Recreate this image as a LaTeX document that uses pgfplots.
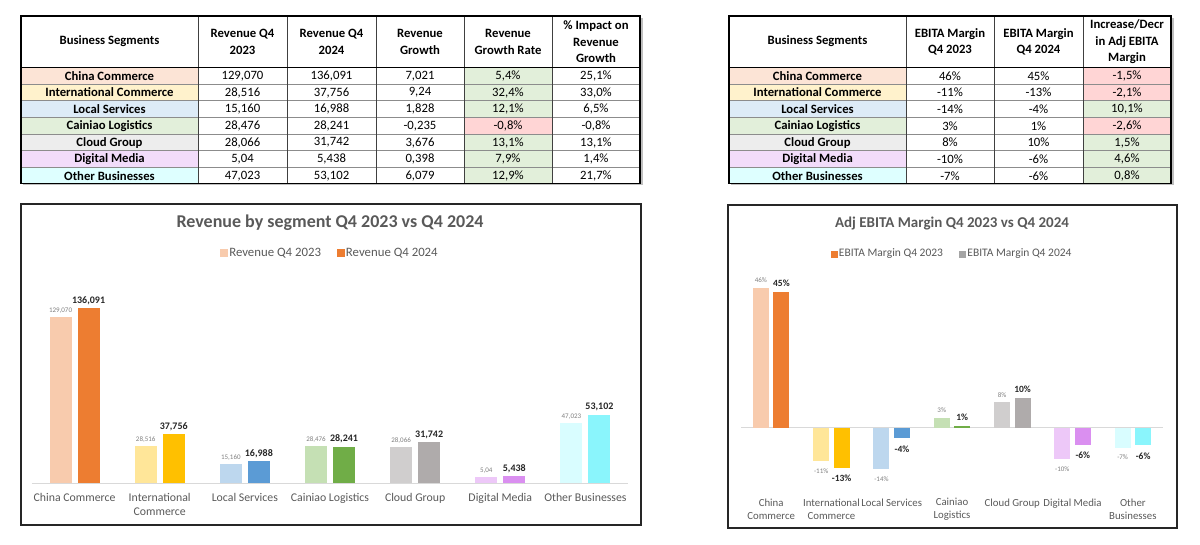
\documentclass[border=0pt]{standalone}
\usepackage{pgfplots}
\pgfplotsset{compat=1.18}
\usepackage{fontspec}
\setmainfont{Carlito}

% bar colours: A = 2023 (light), B = 2024 (dark)
\definecolor{cnA}{HTML}{F8CBAD}\definecolor{cnB}{HTML}{ED7D31}
\definecolor{inA}{HTML}{FFE699}\definecolor{inB}{HTML}{FFC000}
\definecolor{loA}{HTML}{BDD7EE}\definecolor{loB}{HTML}{5B9BD5}
\definecolor{caA}{HTML}{C5E0B4}\definecolor{caB}{HTML}{70AD47}
\definecolor{clA}{HTML}{D0CECE}\definecolor{clB}{HTML}{AFABAB}
\definecolor{dmA}{HTML}{EDC8F8}\definecolor{dmB}{HTML}{DA8FF0}
\definecolor{otA}{HTML}{D9FDFF}\definecolor{otB}{HTML}{8AF5FC}
\definecolor{lgray}{HTML}{A5A5A5}
\definecolor{txt}{HTML}{595959}
\definecolor{lbl}{HTML}{7F7F7F}
\definecolor{dark}{HTML}{262626}
\definecolor{gridc}{HTML}{D9D9D9}
% table fills
\definecolor{tcn}{HTML}{FCE4D6}\definecolor{tin}{HTML}{FFF2CC}
\definecolor{tlo}{HTML}{DDEBF7}\definecolor{tca}{HTML}{E2EFDA}
\definecolor{tcl}{HTML}{EDEDED}\definecolor{tdm}{HTML}{F2DCFA}
\definecolor{tot}{HTML}{DEFFFF}
\definecolor{good}{HTML}{E2EFDA}\definecolor{bad}{HTML}{FFD5D5}

\newcommand{\tf}{\fontsize{12.7}{16.5}\selectfont}

% table 1 row: idx, fill, label, q23, q24, growth, rate fill, rate, impact
\newcommand{\rowA}[9]{%
  \pgfmathsetmacro\ya{67.3+(#1-1)*16.67}%
  \fill[#2] (21,\ya) rectangle (198,\ya+16.67);
  \fill[#7] (464,\ya) rectangle (552,\ya+16.67);
  \node[font=\bfseries\tf] at (109.5,\ya+8.6) {#3};
  \node[font=\tf] at (242.5,\ya+8.6) {#4};
  \node[font=\tf] at (331.5,\ya+8.6) {#5};
  \node[font=\tf] at (420,\ya+8.6) {#6};
  \node[font=\tf] at (508,\ya+8.6) {#8};
  \node[font=\tf] at (596,\ya+8.6) {#9};
}
% table 2 row: idx, fill, label, m23, m24, change fill, change
\newcommand{\rowB}[7]{%
  \pgfmathsetmacro\ya{67.3+(#1-1)*16.67}%
  \fill[#2] (729,\ya) rectangle (906,\ya+16.67);
  \fill[#6] (1083,\ya) rectangle (1171,\ya+16.67);
  \node[font=\bfseries\tf] at (817.5,\ya+8.6) {#3};
  \node[font=\tf] at (950,\ya+8.6) {#4};
  \node[font=\tf] at (1038.5,\ya+8.6) {#5};
  \node[font=\tf] at (1127,\ya+8.6) {#7};
}

\pgfplotsset{
  r23/.style={fill=#1, draw=none, bar shift=-14pt, forget plot,
    every node near coord/.append style={font=\fontsize{7}{8}\selectfont, text=lbl}},
  r24/.style={fill=#1, draw=none, bar shift=14pt, forget plot,
    every node near coord/.append style={font=\bfseries\fontsize{10}{11}\selectfont, text=dark}},
  e23/.style={fill=#1, draw=none, bar shift=-10.25pt, forget plot,
    every node near coord/.append style={font=\fontsize{7}{8}\selectfont, text=lbl, yshift=1.5pt}},
  e24/.style={fill=#1, draw=none, bar shift=10.25pt, forget plot,
    every node near coord/.append style={font=\bfseries\fontsize{9.5}{10}\selectfont, text=dark, yshift=1.5pt}},
  neg/.style={every node near coord/.append style={anchor=north, yshift=-5.5pt}},
}

\begin{document}
\begin{tikzpicture}
\begin{scope}[x=1pt, y=-1pt, yshift=544pt]
  \path[use as bounding box] (0,0) rectangle (1200,544);

  % ---------- table 1 ----------
  \fill[black!25] (23,18) rectangle (642.5,185.5);
  \fill[white] (21,16) rectangle (640,183.3);
  \rowA{1}{tcn}{China Commerce}{129,070}{136,091}{7,021}{good}{5,4\%}{25,1\%}
  \rowA{2}{tin}{International Commerce}{28,516}{37,756}{9,24}{good}{32,4\%}{33,0\%}
  \rowA{3}{tlo}{Local Services}{15,160}{16,988}{1,828}{good}{12,1\%}{6,5\%}
  \rowA{4}{tca}{Cainiao Logistics}{28,476}{28,241}{-0,235}{bad}{-0,8\%}{-0,8\%}
  \rowA{5}{tcl}{Cloud Group}{28,066}{31,742}{3,676}{good}{13,1\%}{13,1\%}
  \rowA{6}{tdm}{Digital Media}{5,04}{5,438}{0,398}{good}{7,9\%}{1,4\%}
  \rowA{7}{tot}{Other Businesses}{47,023}{53,102}{6,079}{good}{12,9\%}{21,7\%}
  \foreach \i in {1,...,6} \draw[black!45, line width=0.6pt] (21,67.3+\i*16.67) -- (640,67.3+\i*16.67);
  \foreach \x in {198,287,376,464,552} \draw[black!75, line width=0.8pt] (\x,16) -- (\x,183.3);
  \draw[black, line width=1pt] (21,67.3) -- (640,67.3);
  \draw[black, line width=1.2pt] (21,16) rectangle (640,183.3);
  \begin{scope}[every node/.style={font=\bfseries\fontsize{12.7}{16.5}\selectfont, align=center}]
    \node at (109.5,41.5) {Business Segments};
    \node at (242.5,42) {Revenue Q4\\2023};
    \node at (331.5,42) {Revenue Q4\\2024};
    \node at (420,42) {Revenue\\Growth};
    \node at (508,42) {Revenue\\Growth Rate};
    \node at (596,42) {\% Impact on\\Revenue\\Growth};
  \end{scope}

  % ---------- table 2 ----------
  \fill[black!25] (731,18) rectangle (1173.5,185.5);
  \fill[white] (729,16) rectangle (1171,183.3);
  \rowB{1}{tcn}{China Commerce}{46\%}{45\%}{bad}{-1,5\%}
  \rowB{2}{tin}{International Commerce}{-11\%}{-13\%}{bad}{-2,1\%}
  \rowB{3}{tlo}{Local Services}{-14\%}{-4\%}{good}{10,1\%}
  \rowB{4}{tca}{Cainiao Logistics}{3\%}{1\%}{bad}{-2,6\%}
  \rowB{5}{tcl}{Cloud Group}{8\%}{10\%}{good}{1,5\%}
  \rowB{6}{tdm}{Digital Media}{-10\%}{-6\%}{good}{4,6\%}
  \rowB{7}{tot}{Other Businesses}{-7\%}{-6\%}{good}{0,8\%}
  \foreach \i in {1,...,6} \draw[black!45, line width=0.6pt] (729,67.3+\i*16.67) -- (1171,67.3+\i*16.67);
  \foreach \x in {906,994,1083} \draw[black!75, line width=0.8pt] (\x,16) -- (\x,183.3);
  \draw[black, line width=1pt] (729,67.3) -- (1171,67.3);
  \draw[black, line width=1.2pt] (729,16) rectangle (1171,183.3);
  \begin{scope}[every node/.style={font=\bfseries\fontsize{12.7}{16.5}\selectfont, align=center}]
    \node at (817.5,41.5) {Business Segments};
    \node at (950,42) {EBITA Margin\\Q4 2023};
    \node at (1038.5,42) {EBITA Margin\\Q4 2024};
    \node at (1127,42) {Increase/Decr\\in Adj EBITA\\Margin};
  \end{scope}

  % ---------- chart frames and titles ----------
  \draw[black!85, line width=1.2pt] (21,204) rectangle (641,525);
  \draw[black!85, line width=1.2pt] (728,205) rectangle (1177,528);
  \node[font=\bfseries\fontsize{18}{20}\selectfont, text=txt] at (330,223) {Revenue by segment Q4 2023 vs Q4 2024};
  \node[font=\bfseries\fontsize{15}{17}\selectfont, text=txt] at (952,224) {Adj EBITA Margin Q4 2023 vs Q4 2024};
\end{scope}

% ---------- revenue chart ----------
\begin{axis}[
  at={(32pt,61pt)}, anchor=south west,
  scale only axis, width=596pt, height=213pt,
  xmin=-0.5, xmax=6.5, ymin=0, ymax=165640,
  ybar, bar width=22pt,
  axis line style={draw=none},
  major tick length=0pt,
  ytick=\empty, xtick={0,...,6},
  xticklabels={China Commerce, {International\\Commerce}, Local Services, Cainiao Logistics, Cloud Group, Digital Media, Other Businesses},
  xticklabel style={font=\fontsize{11.8}{14}\selectfont, text=txt, align=center, yshift=-7pt},
  extra y ticks={0}, extra y tick labels={},
  extra y tick style={grid=major, major grid style={gridc, line width=0.8pt}},
  point meta=explicit symbolic, nodes near coords,
  clip=false,
  legend columns=2,
  legend style={at={(0.5,1)}, anchor=center, yshift=17pt, draw=none, fill=none,
    font=\fontsize{12.8}{14}\selectfont, text=txt,
    /tikz/every even column/.append style={column sep=14pt}},
]
  \addplot[r23=cnA] coordinates {(0,129070) [129,070]};
  \addplot[r24=cnB] coordinates {(0,136091) [136,091]};
  \addplot[r23=inA] coordinates {(1,28516) [28,516]};
  \addplot[r24=inB] coordinates {(1,37756) [37,756]};
  \addplot[r23=loA] coordinates {(2,15160) [15,160]};
  \addplot[r24=loB] coordinates {(2,16988) [16,988]};
  \addplot[r23=caA] coordinates {(3,28476) [28,476]};
  \addplot[r24=caB] coordinates {(3,28241) [28,241]};
  \addplot[r23=clA] coordinates {(4,28066) [28,066]};
  \addplot[r24=clB] coordinates {(4,31742) [31,742]};
  \addplot[r23=dmA] coordinates {(5,5040) [5,04]};
  \addplot[r24=dmB] coordinates {(5,5438) [5,438]};
  \addplot[r23=otA] coordinates {(6,47023) [47,023]};
  \addplot[r24=otB] coordinates {(6,53102) [53,102]};
  \addlegendimage{legend image code/.code={\fill[cnA] (-3pt,-3.3pt) rectangle (3.6pt,3.3pt);}}
  \addlegendimage{legend image code/.code={\fill[cnB] (-3pt,-3.3pt) rectangle (3.6pt,3.3pt);}}
  \legend{Revenue Q4 2023, Revenue Q4 2024}
\end{axis}

% ---------- EBITA margin chart ----------
\begin{axis}[
  at={(741pt,68pt)}, anchor=south west,
  scale only axis, width=422pt, height=193.3pt,
  xmin=-0.5, xmax=6.5, ymin=-16, ymax=48,
  ybar, bar width=16pt,
  axis line style={draw=none},
  major tick length=0pt,
  ytick=\empty, xtick={0,...,6},
  xticklabels={{China\\Commerce}, {International\\Commerce}, Local Services, {Cainiao\\Logistics}, Cloud Group, Digital Media, {Other\\Businesses}},
  xticklabel style={font=\fontsize{10.8}{13}\selectfont, text=txt, align=center, yshift=-19pt},
  extra y ticks={0}, extra y tick labels={},
  extra y tick style={grid=major, major grid style={gridc, line width=0.8pt}},
  point meta=explicit symbolic, nodes near coords,
  clip=false,
  legend columns=2,
  legend style={at={(0.5,1)}, anchor=center, yshift=29pt, draw=none, fill=none,
    font=\fontsize{11.5}{13}\selectfont, text=txt,
    /tikz/every even column/.append style={column sep=14pt}},
]
  \addplot[e23=cnA] coordinates {(0,46.4) [46\%]};
  \addplot[e24=cnB] coordinates {(0,45.0) [45\%]};
  \addplot[e23=inA, neg] coordinates {(1,-11.0) [-11\%]};
  \addplot[e24=inB, neg] coordinates {(1,-13.2) [-13\%]};
  \addplot[e23=loA, neg] coordinates {(2,-13.6) [-14\%]};
  \addplot[e24=loB, neg] coordinates {(2,-3.5) [-4\%]};
  \addplot[e23=caA] coordinates {(3,3.3) [3\%]};
  \addplot[e24=caB] coordinates {(3,0.7) [1\%]};
  \addplot[e23=clA] coordinates {(4,8.4) [8\%]};
  \addplot[e24=clB] coordinates {(4,9.9) [10\%]};
  \addplot[e23=dmA, neg] coordinates {(5,-10.3) [-10\%]};
  \addplot[e24=dmB, neg] coordinates {(5,-5.7) [-6\%]};
  \addplot[e23=otA, neg] coordinates {(6,-6.6) [-7\%]};
  \addplot[e24=otB, neg] coordinates {(6,-5.9) [-6\%]};
  \addlegendimage{legend image code/.code={\fill[cnB] (-3pt,-3pt) rectangle (3pt,3pt);}}
  \addlegendimage{legend image code/.code={\fill[lgray] (-3pt,-3pt) rectangle (3pt,3pt);}}
  \legend{EBITA Margin Q4 2023, EBITA Margin Q4 2024}
\end{axis}
\end{tikzpicture}
\end{document}
